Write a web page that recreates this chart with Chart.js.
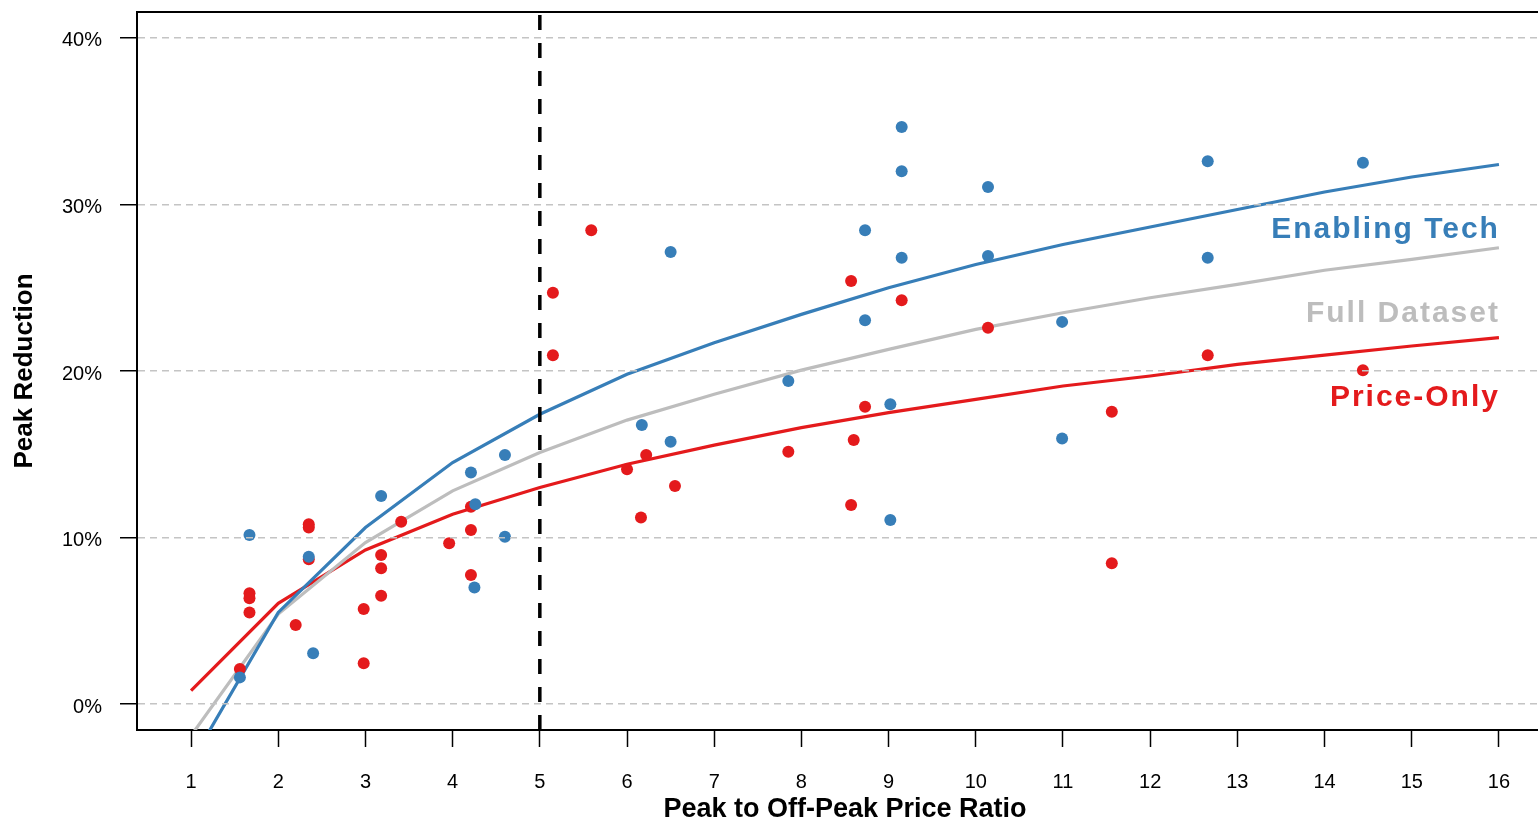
<!DOCTYPE html>
<html>
<head>
<meta charset="utf-8">
<script src="https://cdn.jsdelivr.net/npm/chart.js@4/dist/chart.umd.min.js"></script>
<style>
  html, body { margin: 0; background: #fff; overflow: hidden; }
  /* the original plot runs a little past the right edge of the picture */
  #wrap { width: 1553px; height: 823px; }
</style>
</head>
<body>
<div id="wrap"><canvas id="chart"></canvas></div>
<script>
// price ratio / peak reduction (%)
const TECH_X = [1.56, 1.67, 2.35, 2.40, 3.18, 4.21, 4.26, 4.25, 4.60, 4.60, 6.17, 6.50, 6.50, 7.85,
  8.73, 8.73, 9.02, 9.02, 9.15, 9.15, 9.15, 10.14, 10.14, 10.99, 10.99, 12.66, 12.66, 14.44];
const TECH_Y = [1.6, 10.15, 8.85, 3.05, 12.5, 13.9, 12.0, 7.0, 14.95, 10.05, 16.75, 27.15, 15.75, 19.4,
  28.45, 23.05, 18.0, 11.05, 34.65, 32.0, 26.8, 31.05, 26.9, 22.95, 15.95, 32.6, 26.8, 32.5];

const PRICE_X = [1.56, 1.67, 1.67, 1.67, 2.20, 2.35, 2.35, 2.35, 2.98, 2.98, 3.18, 3.18, 3.18, 3.41,
  3.96, 4.21, 4.21, 4.21, 5.15, 5.15, 5.59, 6.00, 6.16, 6.22, 6.55, 7.85, 8.57, 8.57, 8.60, 8.73,
  9.15, 10.14, 11.56, 11.56, 12.66, 14.44];
const PRICE_Y = [2.1, 6.65, 6.35, 5.5, 4.75, 10.8, 10.6, 8.7, 5.7, 2.45, 8.95, 8.15, 6.5, 10.95,
  9.65, 11.85, 10.45, 7.75, 24.7, 20.95, 28.45, 14.1, 11.2, 14.95, 13.1, 15.15, 25.4, 11.95, 15.85, 17.85,
  24.25, 22.6, 17.55, 8.45, 20.95, 20.05];

// fitted curves, read at each integer ratio
const RATIOS = [1, 2, 3, 4, 5, 6, 7, 8, 9, 10, 11, 12, 13, 14, 15, 16];
const FIT_TECH = [-3.5, 5.5, 10.6, 14.5, 17.4, 19.8, 21.7, 23.4, 25.0, 26.4, 27.6, 28.65, 29.7, 30.75, 31.65, 32.4];
const FIT_ALL = [-1.9, 5.4, 9.7, 12.8, 15.1, 17.05, 18.6, 20.05, 21.3, 22.5, 23.5, 24.4, 25.2, 26.05, 26.7, 27.4];
const FIT_PRICE = [0.8, 6.05, 9.25, 11.4, 13.0, 14.4, 15.55, 16.6, 17.5, 18.3, 19.1, 19.7, 20.4, 20.95, 21.5, 22.0];

const X_TICKS = RATIOS;
const Y_TICKS = [0, 10, 20, 30, 40];
const CUTOFF = 5;

const CURVE_LABELS = [
  { text: "Enabling Tech", color: "#377eb8", y: 28.0 },
  { text: "Full Dataset", color: "#bdbdbd", y: 22.95 },
  { text: "Price-Only", color: "#e41a1c", y: 17.9 },
];

const BLUE = "#377eb8";
const RED = "#e41a1c";
const GRAY = "#bdbdbd";

const pts = (xs, ys) => xs.map((x, i) => ({ x: x, y: ys[i] }));

const extras = {
  id: "extras",
  afterDatasetsDraw(chart) {
    const { ctx, chartArea: a, scales } = chart;
    ctx.save();
    // box top edge
    ctx.strokeStyle = "#000";
    ctx.lineWidth = 2;
    ctx.beginPath();
    ctx.moveTo(a.left, a.top);
    ctx.lineTo(a.right, a.top);
    ctx.stroke();
    // cutoff line
    const cx = scales.x.getPixelForValue(CUTOFF);
    ctx.lineWidth = 3.5;
    ctx.setLineDash([15, 13]);
    ctx.lineDashOffset = 25;
    ctx.beginPath();
    ctx.moveTo(cx, a.top);
    ctx.lineTo(cx, a.bottom);
    ctx.stroke();
    ctx.setLineDash([]);
    // curve names
    ctx.font = "bold 30px 'Liberation Sans', Arial, sans-serif";
    ctx.letterSpacing = "2px";
    ctx.textAlign = "right";
    ctx.textBaseline = "alphabetic";
    const rx = scales.x.getPixelForValue(16) + 1;
    CURVE_LABELS.forEach((l) => {
      ctx.fillStyle = l.color;
      ctx.fillText(l.text, rx, scales.y.getPixelForValue(l.y));
    });
    ctx.restore();
  },
};

const lineSet = (data, color) => ({
  type: "line",
  data: pts(RATIOS, data),
  borderColor: color,
  borderWidth: 3.2,
  pointRadius: 0,
  fill: false,
  tension: 0,
  clip: 0,
});

new Chart(document.getElementById("chart"), {
  type: "scatter",
  data: {
    datasets: [
      {
        label: "Enabling Tech",
        data: pts(TECH_X, TECH_Y),
        backgroundColor: BLUE,
        pointRadius: 6,
        pointBorderWidth: 0,
      },
      {
        label: "Price-Only",
        data: pts(PRICE_X, PRICE_Y),
        backgroundColor: RED,
        pointRadius: 6,
        pointBorderWidth: 0,
      },
      lineSet(FIT_TECH, BLUE),
      lineSet(FIT_ALL, GRAY),
      lineSet(FIT_PRICE, RED),
    ],
  },
  options: {
    responsive: true,
    maintainAspectRatio: false,
    animation: false,
    layout: { autoPadding: false, padding: { top: 12, right: 0, left: 0, bottom: 0 } },
    plugins: {
      legend: { display: false },
      tooltip: { enabled: false },
    },
    scales: {
      x: {
        type: "linear",
        min: 0.38,
        max: 16.62,
        afterBuildTicks: (s) => { s.ticks = X_TICKS.map((v) => ({ value: v })); },
        afterFit: (s) => {
          s.height = 93;
          s.paddingLeft = 0;
          s.paddingRight = 0;
        },
        grid: {
          drawOnChartArea: false,
          tickLength: 17,
          tickColor: "#000",
          tickWidth: 1.5,
        },
        border: { color: "#000", width: 2 },
        ticks: {
          color: "#000",
          padding: 23,
          maxRotation: 0,
          autoSkip: false,
          font: { family: "'Liberation Sans', Arial, sans-serif", size: 20 },
        },
        title: {
          display: true,
          text: "Peak to Off-Peak Price Ratio",
          color: "#000",
          padding: 0,
          font: { family: "'Liberation Sans', Arial, sans-serif", size: 27, weight: "bold", lineHeight: 1 },
        },
      },
      y: {
        type: "linear",
        min: -1.56,
        max: 41.56,
        afterBuildTicks: (s) => { s.ticks = Y_TICKS.map((v) => ({ value: v })); },
        afterFit: (s) => {
          s.width = 137;
          s.paddingTop = 0;
          s.paddingBottom = 0;
        },
        grid: {
          z: 1,
          color: "#c4c4c4",
          lineWidth: 1.5,
          tickLength: 17,
          tickColor: "#000",
          tickWidth: 1.5,
        },
        border: { color: "#000", width: 2, dash: [7, 5], z: 1 },
        ticks: {
          color: "#000",
          padding: 18,
          labelOffset: 3,
          callback: (v) => v + "%",
          font: { family: "'Liberation Sans', Arial, sans-serif", size: 20 },
        },
        title: {
          display: true,
          text: "Peak Reduction",
          color: "#000",
          padding: { top: 12 },
          font: { family: "'Liberation Sans', Arial, sans-serif", size: 26, weight: "bold", lineHeight: 1 },
        },
      },
    },
  },
  plugins: [extras],
});
</script>
</body>
</html>
